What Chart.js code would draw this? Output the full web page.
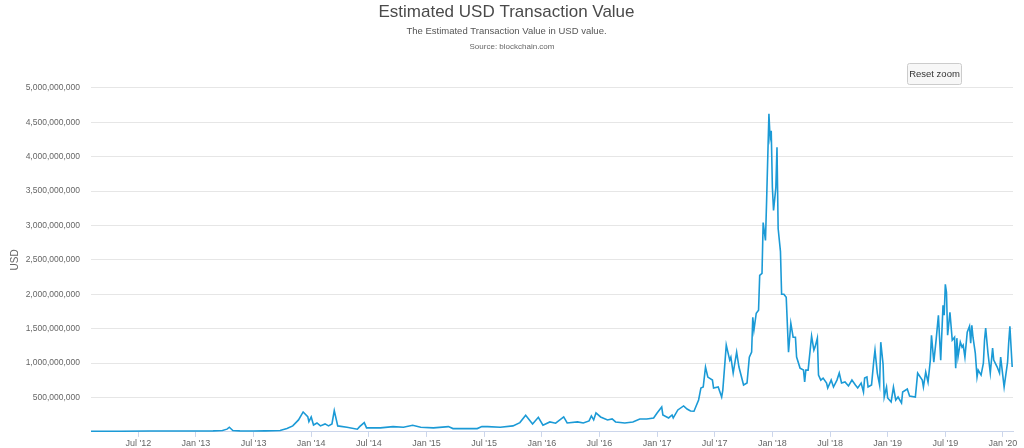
<!DOCTYPE html>
<html>
<head>
<meta charset="utf-8">
<script src="https://cdn.jsdelivr.net/npm/chart.js@4"></script>
<style>
  html, body { margin: 0; padding: 0; background: #fff; }
  #wrap { width: 1024px; height: 448px; }
</style>
</head>
<body>
<div id="wrap"><canvas id="grafico" width="1024" height="448"></canvas></div>
<script>
// Datos (fecha en año decimal, valor en millones de USD)
const years = [
  2012.09, 2012.34, 2012.60, 2012.86, 2013.04, 2013.15, 2013.23, 2013.27, 2013.29, 2013.32,
  2013.38, 2013.50, 2013.60, 2013.73, 2013.79, 2013.84, 2013.89, 2013.93, 2013.97, 2013.98,
  2014.00, 2014.02, 2014.05, 2014.08, 2014.12, 2014.15, 2014.18, 2014.20, 2014.23, 2014.31,
  2014.40, 2014.42, 2014.46, 2014.48, 2014.60, 2014.71, 2014.80, 2014.88, 2014.95, 2015.06,
  2015.19, 2015.23, 2015.34, 2015.44, 2015.48, 2015.53, 2015.64, 2015.75, 2015.81, 2015.86,
  2015.92, 2015.97, 2016.01, 2016.07, 2016.12, 2016.19, 2016.22, 2016.31, 2016.36, 2016.41,
  2016.43, 2016.45, 2016.47, 2016.51, 2016.57, 2016.61, 2016.64, 2016.72, 2016.79, 2016.85,
  2016.91, 2016.97, 2017.00, 2017.04, 2017.05, 2017.10, 2017.13, 2017.14, 2017.18, 2017.23,
  2017.26, 2017.29, 2017.32, 2017.36, 2017.38, 2017.40, 2017.42, 2017.44, 2017.48, 2017.49,
  2017.53, 2017.56, 2017.57, 2017.60, 2017.63, 2017.64, 2017.66, 2017.69, 2017.71, 2017.75,
  2017.78, 2017.80, 2017.82, 2017.83, 2017.84, 2017.86, 2017.88, 2017.89, 2017.91, 2017.92,
  2017.94, 2017.95, 2017.97, 2017.98, 2017.99, 2018.00, 2018.01, 2018.03, 2018.04, 2018.05,
  2018.07, 2018.08, 2018.10, 2018.12, 2018.14, 2018.16, 2018.18, 2018.20, 2018.21, 2018.24,
  2018.27, 2018.28, 2018.29, 2018.31, 2018.34, 2018.36, 2018.37, 2018.39, 2018.40, 2018.42,
  2018.44, 2018.47, 2018.48, 2018.51, 2018.53, 2018.56, 2018.58, 2018.60, 2018.63, 2018.66,
  2018.69, 2018.72, 2018.74, 2018.77, 2018.79, 2018.80, 2018.82, 2018.83, 2018.86, 2018.88,
  2018.89, 2018.91, 2018.93, 2018.94, 2018.96, 2018.97, 2018.99, 2019.00, 2019.03, 2019.05,
  2019.07, 2019.09, 2019.12, 2019.13, 2019.17, 2019.19, 2019.24, 2019.26, 2019.30, 2019.31,
  2019.33, 2019.35, 2019.37, 2019.38, 2019.40, 2019.42, 2019.44, 2019.46, 2019.48, 2019.49,
  2019.50, 2019.51, 2019.52, 2019.54, 2019.56, 2019.58, 2019.59, 2019.60, 2019.61, 2019.63,
  2019.645, 2019.655, 2019.67, 2019.69, 2019.71, 2019.72, 2019.73, 2019.74, 2019.76, 2019.775,
  2019.785, 2019.81, 2019.83, 2019.84, 2019.85, 2019.87, 2019.89, 2019.91, 2019.92, 2019.95,
  2019.97, 2019.98, 2020.01, 2020.04, 2020.05, 2020.06, 2020.08
];

const valuesM = [
  8, 10, 12, 12, 14, 15, 20, 40, 68, 20,
  15, 12, 15, 20, 48, 87, 174, 290, 222, 149,
  217, 101, 130, 87, 116, 87, 116, 309, 87, 68,
  39, 77, 135, 58, 58, 77, 68, 97, 68, 58,
  77, 48, 48, 48, 77, 77, 68, 87, 135, 242,
  116, 212, 97, 145, 126, 217, 130, 145, 130, 159,
  232, 174, 275, 217, 174, 188, 145, 130, 145, 188,
  188, 203, 275, 362, 246, 203, 246, 203, 319, 377,
  333, 304, 300, 464, 638, 652, 942, 797, 753, 638,
  652, 507, 608, 1261, 1043, 1087, 855, 1159, 942, 681,
  710, 1087, 1159, 1666, 1478, 1724, 1768, 2275, 2304, 3043,
  2782, 3362, 4622, 4274, 4376, 3550, 3217, 3550, 4136, 2956,
  2623, 2000, 2000, 1956, 1159, 1579, 1376, 1376, 1087, 927,
  898, 725, 898, 898, 1391, 1188, 1232, 1362, 826, 753,
  782, 710, 638, 753, 652, 753, 855, 710, 725, 667,
  753, 681, 638, 710, 580, 782, 797, 652, 681, 1043,
  1188, 855, 681, 1304, 985, 507, 652, 493, 435, 652,
  464, 507, 420, 580, 623, 522, 507, 855, 753, 652,
  869, 724, 1043, 1405, 1014, 1333, 1695, 1043, 1840, 1695,
  2144, 2029, 1405, 1739, 1333, 1376, 927, 1362, 1087, 1304,
  1232, 1261, 1087, 1449, 1536, 1290, 1550, 1376, 1145, 797,
  898, 826, 1000, 1333, 1507, 1145, 855, 1217, 1043, 942,
  855, 1087, 652, 1014, 1304, 1536, 942
];

// Marcas del eje X (Ene / Jul de cada año)
const xTicks = [2012.5, 2013, 2013.5, 2014, 2014.5, 2015, 2015.5, 2016, 2016.5,
                2017, 2017.5, 2018, 2018.5, 2019, 2019.5, 2020];
const yTicksM = [0, 500, 1000, 1500, 2000, 2500, 3000, 3500, 4000, 4500, 5000];

const FUENTE = "'Liberation Sans', Arial, sans-serif";

function etiquetaFecha(v) {
    const anio = Math.floor(v + 0.001);
    const mitad = (v - anio) > 0.25;
    return (mitad ? "Jul '" : "Jan '") + String(anio).slice(2);
}

// Plugin para la línea de fuente y el botón "Reset zoom"
const extras = {
    id: 'extras',
    afterDraw(chart) {
        const ctx = chart.ctx;
        ctx.save();
        ctx.font = '8px ' + FUENTE;
        ctx.fillStyle = '#666666';
        ctx.textAlign = 'center';
        ctx.textBaseline = 'middle';
        ctx.fillText('Source: blockchain.com', chart.width / 2, 47);

        // botón
        ctx.beginPath();
        ctx.roundRect(907.5, 63.5, 54, 21, 2);
        ctx.fillStyle = '#f7f7f7';
        ctx.fill();
        ctx.strokeStyle = '#cccccc';
        ctx.lineWidth = 1;
        ctx.stroke();
        ctx.font = '9.5px ' + FUENTE;
        ctx.fillStyle = '#333333';
        ctx.fillText('Reset zoom', 934.5, 74.5);
        ctx.restore();
    }
};

const puntos = years.map((x, i) => ({ x: x, y: valuesM[i] }));

new Chart(document.getElementById('grafico'), {
    type: 'line',
    data: {
        datasets: [{
            label: 'USD',
            data: puntos,
            borderColor: '#1b9ad6',
            borderWidth: 1.6,
            pointRadius: 0,
            tension: 0,
            fill: false
        }]
    },
    options: {
        responsive: false,
        animation: false,
        layout: { padding: { left: 0, right: 11, top: 0, bottom: 0 } },
        plugins: {
            legend: { display: false },
            tooltip: { enabled: false },
            title: {
                display: true,
                text: 'Estimated USD Transaction Value',
                color: '#4a4a4a',
                font: { family: FUENTE, size: 17, weight: 'normal' },
                padding: { top: 2, bottom: 3 }
            },
            subtitle: {
                display: true,
                text: 'The Estimated Transaction Value in USD value.',
                color: '#555555',
                font: { family: FUENTE, size: 9.5, weight: 'normal' },
                padding: { top: 0, bottom: 51 }
            }
        },
        scales: {
            x: {
                type: 'linear',
                min: 2012.09,
                max: 2020.087,
                afterBuildTicks: (scale) => {
                    scale.ticks = xTicks.map(v => ({ value: v }));
                },
                afterFit: (scale) => { scale.height = 16; },
                ticks: {
                    color: '#666666',
                    font: { family: FUENTE, size: 9 },
                    padding: 1,
                    maxRotation: 0,
                    autoSkip: false,
                    callback: (v) => etiquetaFecha(v)
                },
                grid: {
                    drawOnChartArea: false,
                    drawTicks: true,
                    tickLength: 5,
                    tickColor: '#ccd6eb'
                },
                border: { color: '#ccd6eb', width: 1 }
            },
            y: {
                min: 0,
                max: 5000,
                afterBuildTicks: (scale) => {
                    scale.ticks = yTicksM.map(v => ({ value: v }));
                },
                afterFit: (scale) => { scale.width = 91; },
                ticks: {
                    color: '#666666',
                    font: { family: FUENTE, size: 8.5 },
                    padding: 11,
                    callback: (v) => v === 0 ? '' : (v * 1e6).toLocaleString('en-US')
                },
                grid: {
                    color: '#e6e6e6',
                    drawTicks: false
                },
                border: { display: false },
                title: {
                    display: true,
                    text: 'USD',
                    color: '#666666',
                    font: { family: FUENTE, size: 10 },
                    padding: { top: 9, bottom: 2 }
                }
            }
        }
    },
    plugins: [extras]
});
</script>
</body>
</html>
